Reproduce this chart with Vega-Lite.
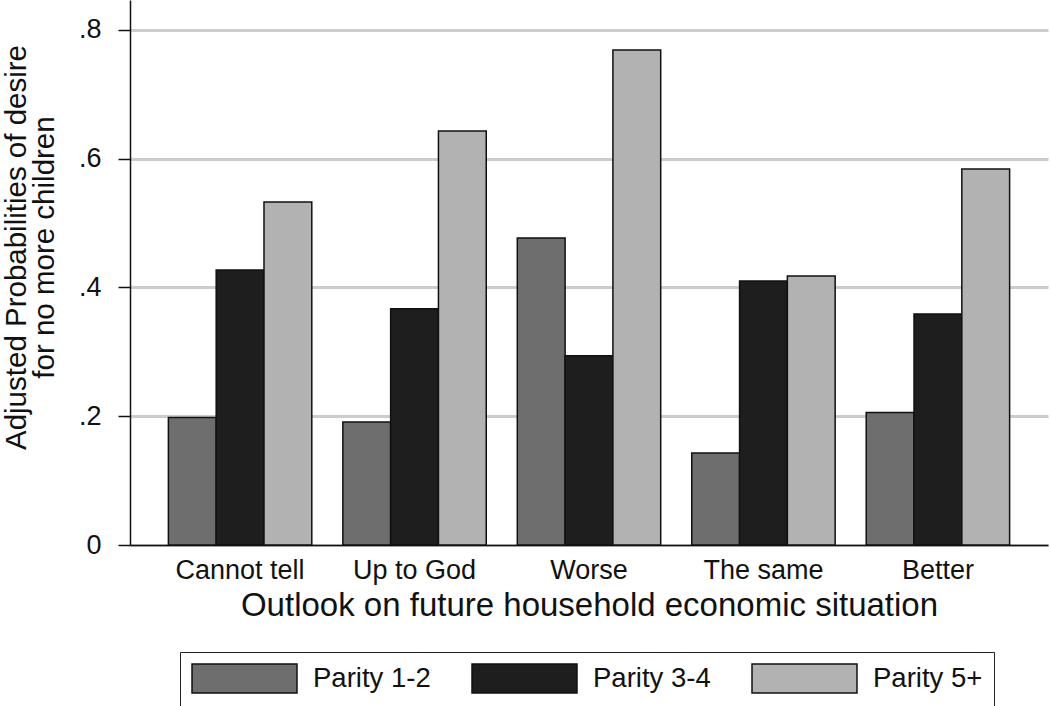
{
  "$schema": "https://vega.github.io/schema/vega-lite/v6.json",
  "width": 918,
  "height": 545,
  "autosize": {"type": "none"},
  "padding": {"left": 130, "top": 0, "right": 2, "bottom": 161},
  "background": "white",
  "config": {
    "font": "Liberation Sans",
    "view": {"stroke": null}
  },
  "data": {
    "values": [
      {"outlook": "Cannot tell", "parity": "Parity 1-2", "prob": 0.198},
      {"outlook": "Cannot tell", "parity": "Parity 3-4", "prob": 0.427},
      {"outlook": "Cannot tell", "parity": "Parity 5+", "prob": 0.533},
      {"outlook": "Up to God", "parity": "Parity 1-2", "prob": 0.191},
      {"outlook": "Up to God", "parity": "Parity 3-4", "prob": 0.367},
      {"outlook": "Up to God", "parity": "Parity 5+", "prob": 0.643},
      {"outlook": "Worse", "parity": "Parity 1-2", "prob": 0.477},
      {"outlook": "Worse", "parity": "Parity 3-4", "prob": 0.294},
      {"outlook": "Worse", "parity": "Parity 5+", "prob": 0.769},
      {"outlook": "The same", "parity": "Parity 1-2", "prob": 0.143},
      {"outlook": "The same", "parity": "Parity 3-4", "prob": 0.410},
      {"outlook": "The same", "parity": "Parity 5+", "prob": 0.418},
      {"outlook": "Better", "parity": "Parity 1-2", "prob": 0.206},
      {"outlook": "Better", "parity": "Parity 3-4", "prob": 0.359},
      {"outlook": "Better", "parity": "Parity 5+", "prob": 0.584}
    ]
  },
  "mark": {"type": "bar", "stroke": "#111111", "strokeWidth": 1.5},
  "encoding": {
    "x": {
      "field": "outlook",
      "type": "nominal",
      "sort": ["Cannot tell", "Up to God", "Worse", "The same", "Better"],
      "scale": {"paddingInner": 0.178, "paddingOuter": 0.22},
      "axis": {
        "title": "Outlook on future household economic situation",
        "titleFontSize": 33,
        "titleFontWeight": "normal",
        "titleColor": "#111111",
        "titlePadding": 6,
        "labelAngle": 0,
        "labelFontSize": 27,
        "labelColor": "#111111",
        "labelPadding": 12,
        "ticks": false,
        "domainColor": "#111111",
        "domainWidth": 1.5
      }
    },
    "xOffset": {
      "field": "parity",
      "type": "nominal",
      "sort": ["Parity 1-2", "Parity 3-4", "Parity 5+"],
      "scale": {"paddingInner": 0, "paddingOuter": 0}
    },
    "y": {
      "field": "prob",
      "type": "quantitative",
      "scale": {"domain": [0, 0.8466], "nice": false, "zero": true},
      "axis": {
        "values": [0, 0.2, 0.4, 0.6, 0.8],
        "labelExpr": "datum.value == 0 ? '0' : replace(format(datum.value, '.1f'), '0.', '.')",
        "labelFontSize": 27,
        "labelColor": "#111111",
        "labelPadding": 17,
        "tickSize": 12,
        "tickColor": "#111111",
        "tickWidth": 1.5,
        "domainColor": "#111111",
        "domainWidth": 1.5,
        "grid": true,
        "gridColor": "#cccccc",
        "gridWidth": 3,
        "title": ["Adjusted Probabilities of desire", "for no more children"],
        "titleFontSize": 29.5,
        "titleFontWeight": "normal",
        "titleColor": "#111111",
        "titleLineHeight": 28,
        "titlePadding": 19,
        "titleY": 247
      }
    },
    "color": {
      "field": "parity",
      "type": "nominal",
      "sort": ["Parity 1-2", "Parity 3-4", "Parity 5+"],
      "scale": {
        "domain": ["Parity 1-2", "Parity 3-4", "Parity 5+"],
        "range": ["#6e6e6e", "#1e1e1e", "#b2b2b2"]
      },
      "legend": {
        "title": null,
        "orient": "none",
        "legendX": 50,
        "legendY": 652,
        "direction": "horizontal",
        "columns": 3,
        "columnPadding": 38,
        "padding": 11,
        "strokeColor": "#222222",
        "symbolType": "M-3.62,-1H3.62V1H-3.62Z",
        "symbolSize": 841,
        "symbolOffset": 38,
        "symbolStrokeColor": "#111111",
        "symbolStrokeWidth": 1.5,
        "symbolOpacity": 1,
        "labelFontSize": 27.5,
        "labelColor": "#111111",
        "labelOffset": 53,
        "labelLimit": 300
      }
    }
  }
}
